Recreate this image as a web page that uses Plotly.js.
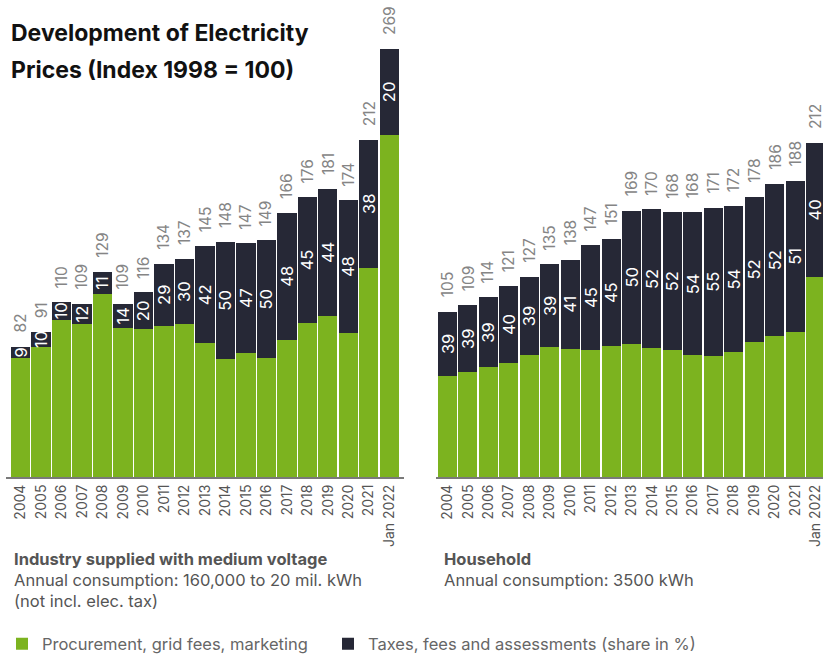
<!DOCTYPE html>
<html>
<head>
<meta charset="utf-8">
<script src="https://cdn.plot.ly/plotly-3.0.1.min.js"></script>
<style>
  html, body { margin: 0; padding: 0; overflow: hidden; background: #fff; }
  #chart { width: 835px; height: 668px; }
</style>
</head>
<body>
<div id="chart"></div>
<script>
// ---- data ----
const years = ['2004','2005','2006','2007','2008','2009','2010','2011','2012','2013','2014','2015','2016','2017','2018','2019','2020','2021','Jan 2022'];
const industryTotal = [82, 91, 110, 109, 129, 109, 116, 134, 137, 145, 148, 147, 149, 166, 176, 181, 174, 212, 269];
const industryShare = [9, 10, 10, 12, 11, 14, 20, 29, 30, 42, 50, 47, 50, 48, 45, 44, 48, 38, 20];
const householdTotal = [105, 109, 114, 121, 127, 135, 138, 147, 151, 169, 170, 168, 168, 171, 172, 178, 186, 188, 212];
const householdShare = [39, 39, 39, 40, 39, 39, 41, 45, 45, 50, 52, 52, 54, 55, 54, 52, 52, 51, 40];
const seriesNames = ['Procurement, grid fees, marketing', 'Taxes, fees and assessments (share in %)'];

// ---- styling ----
const GREEN = '#7cb31f';
const DARK = '#262836';
const W = 835, H = 668;           // drawn slightly larger than the 823x654 window, which crops it
const px = v => v / W;            // pixel from left -> fraction
const py = v => 1 - v / H;        // pixel from top  -> fraction

const procurement = (tot, sh) => tot.map((t, i) => t * (1 - sh[i] / 100));
const taxes = (tot, sh) => tot.map((t, i) => t * sh[i] / 100);

const insideText = {
  textposition: 'inside',
  insidetextanchor: 'middle',
  textangle: -90,
  constraintext: 'none',
  textfont: { family: 'Inter', size: 16.5, color: '#ffffff' }
};

const traces = [
  { type: 'bar', name: seriesNames[0], x: years, y: procurement(industryTotal, industryShare),
    marker: { color: GREEN }, xaxis: 'x', yaxis: 'y', legend: 'legend', showlegend: true },
  Object.assign({ type: 'bar', name: seriesNames[1], x: years, y: taxes(industryTotal, industryShare),
    text: industryShare.map(String), marker: { color: DARK }, xaxis: 'x', yaxis: 'y',
    legend: 'legend2', showlegend: true }, insideText),
  { type: 'bar', name: seriesNames[0], x: years, y: procurement(householdTotal, householdShare),
    marker: { color: GREEN }, xaxis: 'x2', yaxis: 'y2', showlegend: false },
  Object.assign({ type: 'bar', name: seriesNames[1], x: years, y: taxes(householdTotal, householdShare),
    text: householdShare.map(String), marker: { color: DARK }, xaxis: 'x2', yaxis: 'y2',
    showlegend: false }, insideText)
];

// category index used as x so numeric-looking labels are not read as positions
const totalAnn = (tot, xr, yr) => tot.map((t, i) => ({
  x: i, y: t, xref: xr, yref: yr, text: String(t), showarrow: false,
  textangle: -90, yanchor: 'bottom', xanchor: 'center', yshift: 12,
  font: { family: 'Inter', size: 15.5, color: '#858585' }
}));

const textAnn = (text, x, y, opts) => Object.assign({
  text: text, xref: 'paper', yref: 'paper', x: px(x), y: py(y),
  xanchor: 'left', yanchor: 'middle', showarrow: false, align: 'left'
}, opts);

const yDomain = [(H - 477) / H, (H - 477 + 443.8) / H];

const axisX = (dom, rng, anchor) => ({
  domain: dom, range: rng, type: 'category', anchor: anchor, automargin: false,
  tickangle: -90, showline: true, linecolor: '#7a7a7a', linewidth: 2, ticks: '',
  showgrid: false, zeroline: false, tickfont: { family: 'Inter', size: 14, color: '#555' }
});

const legendStyle = (x) => ({
  orientation: 'h', xref: 'container', yref: 'container',
  x: px(x), xanchor: 'left', y: py(644), yanchor: 'middle',
  font: { family: 'Inter', size: 16.5, color: '#666' }, bgcolor: 'rgba(0,0,0,0)'
});

const layout = {
  width: W, height: H,
  margin: { l: 0, r: 0, t: 0, b: 0, autoexpand: false },
  paper_bgcolor: '#ffffff', plot_bgcolor: '#ffffff',
  barmode: 'stack', bargap: 0.07,
  font: { family: 'Inter', color: '#555' },
  hovermode: false,
  xaxis: axisX([px(6.15), px(403.8)], [-0.7, 18.7], 'y'),
  xaxis2: axisX([px(436.3), px(829.8)], [-0.55, 18.7], 'y2'),
  yaxis: { domain: yDomain, range: [0, 279], visible: false, anchor: 'x' },
  yaxis2: { domain: yDomain, range: [0, 281.8], visible: false, anchor: 'x2' },
  showlegend: true,
  legend: legendStyle(2),
  legend2: legendStyle(328),
  annotations: [].concat(
    totalAnn(industryTotal, 'x', 'y'),
    totalAnn(householdTotal, 'x2', 'y2'),
    [
      textAnn('Development of Electricity', 9, 33, { font: { family: 'Inter', size: 23, weight: 'bold', color: '#111' } }),
      textAnn('Prices (Index 1998 = 100)', 9, 70, { font: { family: 'Inter', size: 23, weight: 'bold', color: '#111' } }),
      textAnn('Industry supplied with medium voltage', 12, 559, { font: { family: 'Inter', size: 16.5, weight: 'bold', color: '#555' } }),
      textAnn('Annual consumption: 160,000 to 20 mil. kWh', 12, 580, { font: { family: 'Inter', size: 16.5, color: '#555' } }),
      textAnn('(not incl. elec. tax)', 12, 601, { font: { family: 'Inter', size: 16.5, color: '#555' } }),
      textAnn('Household', 442, 559, { font: { family: 'Inter', size: 16.5, weight: 'bold', color: '#555' } }),
      textAnn('Annual consumption: 3500 kWh', 442, 580, { font: { family: 'Inter', size: 16.5, color: '#555' } })
    ]
  )
};

Plotly.newPlot('chart', traces, layout, { displayModeBar: false, staticPlot: true });
</script>
</body>
</html>
